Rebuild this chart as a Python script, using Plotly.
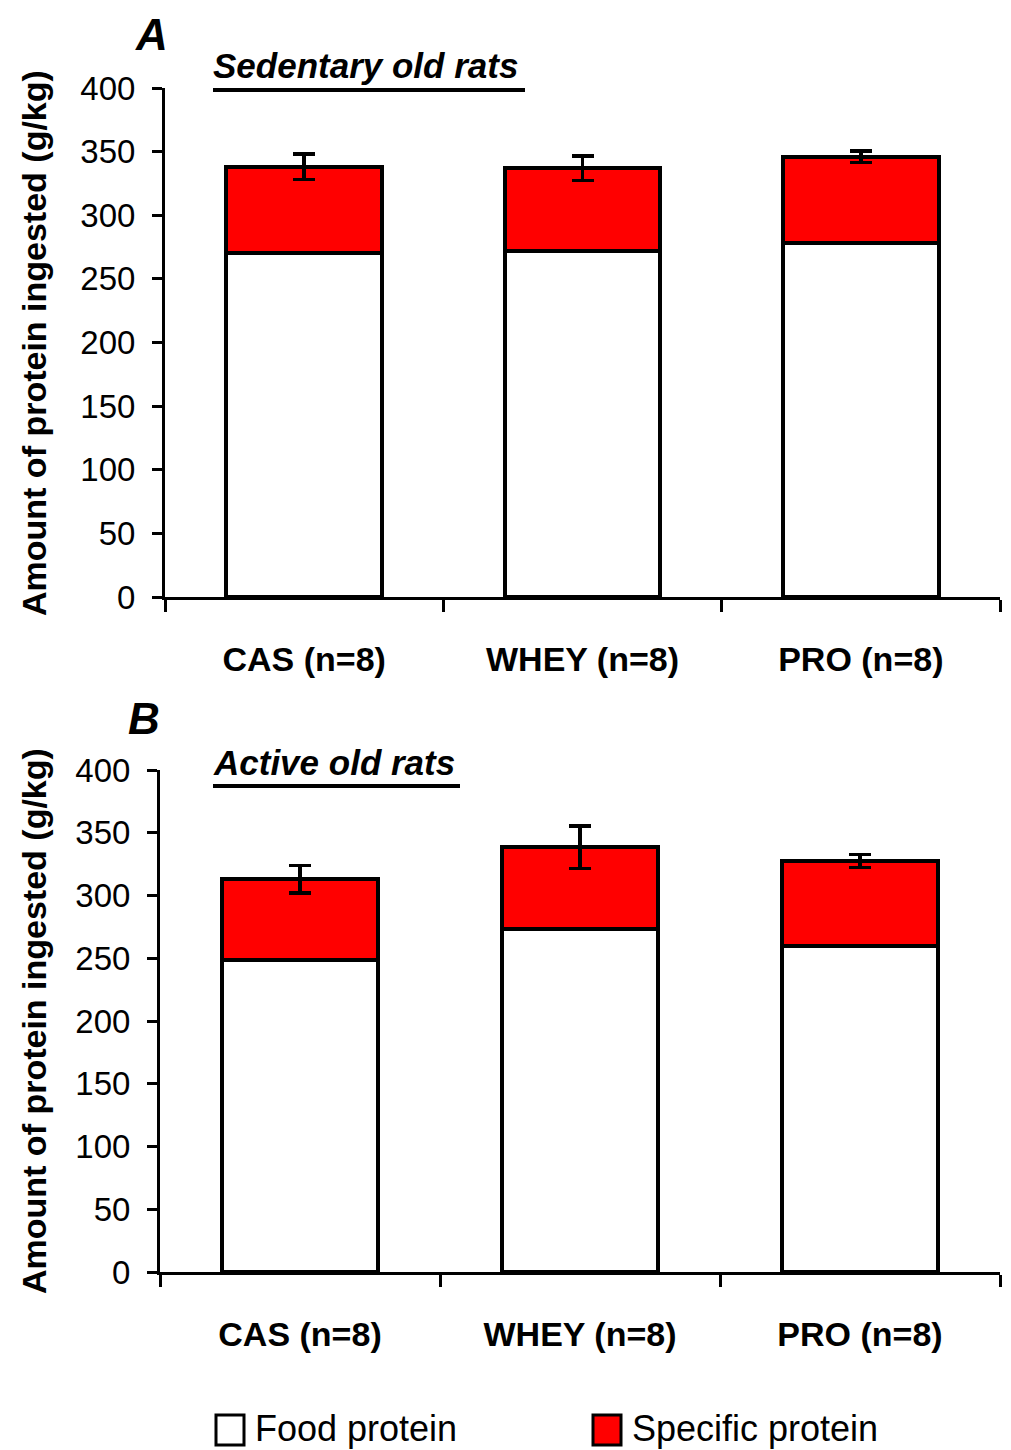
import plotly.graph_objects as go

categories = ["CAS (n=8)", "WHEY (n=8)", "PRO (n=8)"]
series_names = ["Food protein", "Specific protein"]

food_A = [270, 272, 278]
specific_A = [68, 65, 68]
err_A = [10, 9.5, 4.5]

food_B = [249, 273, 260]
specific_B = [64, 65.5, 67.5]
err_B = [11, 17, 5]

y_ticks = [0, 50, 100, 150, 200, 250, 300, 350, 400]

W, H = 1011, 1450
OFF = 8  # default page body margin
FONT = "Liberation Sans, Arial, sans-serif"

def px(v):
    return (v - OFF) / W

def py(v):
    return 1 - (v - OFF) / H

fig = go.Figure()

panels = [
    ("x", "y", food_A, specific_A, err_A),
    ("x2", "y2", food_B, specific_B, err_B),
]
for xa, ya, food, spec, err in panels:
    fig.add_trace(go.Bar(x=categories, y=food, name=series_names[0], xaxis=xa, yaxis=ya,
                         marker=dict(color="white", line=dict(color="black", width=4)),
                         showlegend=False))
    fig.add_trace(go.Bar(x=categories, y=spec, name=series_names[1], xaxis=xa, yaxis=ya,
                         marker=dict(color="#ff0000", line=dict(color="black", width=4)),
                         error_y=dict(type="data", array=err, visible=True, color="black",
                                      thickness=3.5, width=11),
                         showlegend=False))

common_y = dict(range=[0, 400], tickvals=y_ticks, showgrid=False, zeroline=False,
                showline=True, linecolor="black", linewidth=3, ticks="outside",
                ticklen=10, tickwidth=3, tickcolor="black", automargin=False,
                tickfont=dict(family=FONT, size=33, color="black"), ticklabelstandoff=10)
common_x = dict(showgrid=False, showline=True, linecolor="black", linewidth=3,
                ticks="outside", tickson="boundaries", ticklen=12, tickwidth=3,
                tickcolor="black", automargin=False,
                tickfont=dict(family=FONT, size=34, color="black", weight="bold"),
                ticklabelstandoff=30)

fig.update_layout(
    width=W, height=H,
    margin=dict(l=0, r=0, t=0, b=0, autoexpand=False),
    paper_bgcolor="white", plot_bgcolor="white",
    barmode="stack", bargap=0.44,
    showlegend=False,
    xaxis=dict(domain=[px(165), px(1000)], anchor="y", **common_x),
    yaxis=dict(domain=[py(597), py(88)], anchor="x", **common_y),
    xaxis2=dict(domain=[px(160), px(1000)], anchor="y2", **common_x),
    yaxis2=dict(domain=[py(1272), py(770)], anchor="x2", **common_y),
)

def text_ann(text, x, y, size, xanchor="center", angle=0, yanchor="middle"):
    return dict(text=text, x=px(x), y=py(y), xref="paper", yref="paper",
                xanchor=xanchor, yanchor=yanchor, textangle=angle, showarrow=False,
                font=dict(family=FONT, size=size, color="black"))

ann = [
    text_ann("<b><i>A</i></b>", 151, OFF, 44, yanchor="top"),
    text_ann("<b><i>B</i></b>", 144, 718, 44),
    text_ann("<b><i>Sedentary old rats</i></b>", 211, 65, 35, xanchor="left"),
    text_ann("<b><i>Active old rats</i></b>", 211, 762, 35, xanchor="left"),
    text_ann("<b>Amount of protein ingested (g/kg)</b>", 34, 343, 34, angle=-90),
    text_ann("<b>Amount of protein ingested (g/kg)</b>", 34, 1021, 34, angle=-90),
    text_ann(series_names[0], 253, 1428, 36, xanchor="left"),
    text_ann(series_names[1], 630, 1428, 36, xanchor="left"),
]

shapes = [
    dict(type="line", xref="paper", yref="paper", x0=px(213), x1=px(525), y0=py(90), y1=py(90),
         line=dict(color="black", width=4)),
    dict(type="line", xref="paper", yref="paper", x0=px(213), x1=px(460), y0=py(786), y1=py(786),
         line=dict(color="black", width=4)),
    dict(type="rect", xref="paper", yref="paper", x0=px(216), x1=px(244), y0=py(1445), y1=py(1415),
         fillcolor="white", line=dict(color="black", width=3)),
    dict(type="rect", xref="paper", yref="paper", x0=px(593), x1=px(621), y0=py(1445), y1=py(1415),
         fillcolor="#ff0000", line=dict(color="black", width=3)),
]

fig.update_layout(annotations=ann, shapes=shapes)
fig.write_html("out.html")
